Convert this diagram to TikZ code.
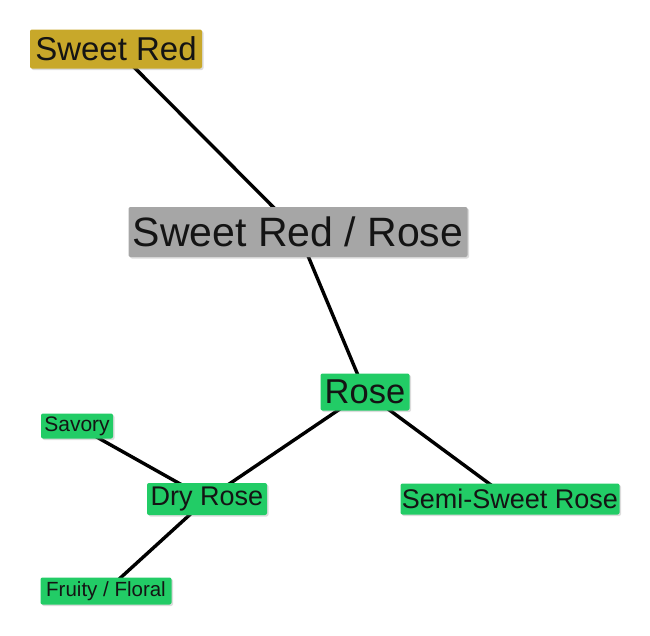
\documentclass[tikz,border=0pt]{standalone}
\usepackage{fontspec}
\setmainfont{Liberation Sans}
\usetikzlibrary{shadows}
\definecolor{gold}{HTML}{C8A82A}
\definecolor{graybox}{HTML}{A6A6A6}
\definecolor{greenbox}{HTML}{22CC66}
\definecolor{txt}{HTML}{141414}
\tikzset{
  box/.style={rounded corners=2pt, inner sep=0pt, text=txt,
    drop shadow={opacity=0.28, shadow xshift=1.5pt, shadow yshift=-1.5pt}},
  link/.style={line width=3.4pt, black},
}
\pgfdeclarelayer{bg}
\pgfsetlayers{bg,main}
\begin{document}
\begin{tikzpicture}[x=1pt,y=-1pt]
\useasboundingbox (0,0) rectangle (650,635);
\node[box, fill=gold, minimum width=172pt, minimum height=39pt, font=\fontsize{33}{36}\selectfont] (sr) at (116,49) {Sweet Red};
\node[box, fill=graybox, minimum width=339pt, minimum height=50pt, font=\fontsize{41}{46}\selectfont] (srr) at (298,232) {Sweet Red / Rose};
\node[box, fill=greenbox, minimum width=89pt, minimum height=37pt, font=\fontsize{34.5}{38}\selectfont] (rose) at (365,392) {Rose};
\node[box, fill=greenbox, minimum width=72pt, minimum height=25pt, font=\fontsize{21}{24}\selectfont] (sav) at (77,426) {Savory};
\node[box, fill=greenbox, minimum width=120pt, minimum height=32pt, font=\fontsize{27}{30}\selectfont] (dry) at (207,499) {Dry Rose};
\node[box, fill=greenbox, minimum width=219pt, minimum height=31pt, font=\fontsize{27}{30}\selectfont] (semi) at (510,499) {Semi-Sweet Rose};
\node[box, fill=greenbox, minimum width=131pt, minimum height=27pt, font=\fontsize{20.5}{24}\selectfont] (fru) at (106,591) {Fruity / Floral};
\begin{pgfonlayer}{bg}
\draw[link] (sr.center) -- (srr.center);
\draw[link] (srr.center) -- (rose.center);
\draw[link] (rose.center) -- (dry.center);
\draw[link] (rose.center) -- (semi.center);
\draw[link] (sav.center) -- (dry.center);
\draw[link] (dry.center) -- (fru.center);
\end{pgfonlayer}
\end{tikzpicture}
\end{document}
